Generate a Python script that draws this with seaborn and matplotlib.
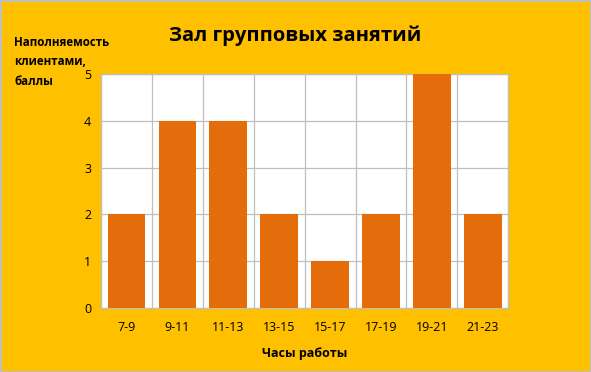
import numpy as np
import pandas as pd
import matplotlib
matplotlib.use("Agg")
import matplotlib.pyplot as plt
import seaborn as sns

# hours of work and client load score
hours = ["7-9", "9-11", "11-13", "13-15", "15-17", "17-19", "19-21", "21-23"]
scores = [2, 4, 4, 2, 1, 2, 5, 2]
ylabel_lines = ["Наполняемость", "клиентами,", "баллы"]

df = pd.DataFrame({"hours": hours, "score": scores})

sns.set_style("white")
plt.rcParams["font.family"] = ["Open Sans", "DejaVu Sans"]
plt.rcParams["text.color"] = "black"

bg = "#FFC000"
bar_color = "#E46C0A"
grid_color = "#BFBFBF"

fig = plt.figure(figsize=(5.91, 3.72), dpi=100, facecolor=bg,
                 edgecolor="#BFBFBF", linewidth=2)
ax = fig.add_axes([0.171, 0.172, 0.689, 0.629])
ax.set_facecolor("white")

sns.barplot(data=df, x="hours", y="score", color=bar_color, width=0.74,
            saturation=1, linewidth=0, ax=ax, zorder=3)

ax.set_ylim(0, 5)
ax.set_xlim(-0.5, len(hours) - 0.5)
ax.set_yticks(range(0, 6))
ax.tick_params(axis="y", length=4, color=grid_color, labelsize=9,
               labelcolor="black", pad=3)

# excel style: ticks/grid on category borders, labels at centers
ax.set_xticks(np.arange(-0.5, len(hours), 1.0))
ax.set_xticklabels([])
ax.set_xticks(range(len(hours)), minor=True)
ax.set_xticklabels(hours, minor=True)
ax.tick_params(axis="x", which="major", length=5, color=grid_color)
ax.tick_params(axis="x", which="minor", length=0, labelsize=9,
               labelcolor="black", pad=9)

ax.grid(True, which="major", color=grid_color, linewidth=0.9, zorder=0)
ax.set_axisbelow(True)
for s in ax.spines.values():
    s.set_color(grid_color)
    s.set_linewidth(0.9)

ax.set_xlabel("Часы работы", fontsize=9, fontweight="bold", labelpad=10,
              color="black")
ax.set_ylabel("")

fig.text(0.5, 0.905, "Зал групповых занятий", ha="center", va="center",
         fontsize=14.5, fontweight="bold", color="black")

# y axis title, written horizontally in three lines at top-left
for i, line in enumerate(ylabel_lines):
    fig.text(0.024, 0.887 - i * 0.053, line, ha="left", va="center",
             fontsize=8.3, fontweight="bold", color="black")

fig.savefig("out.png", dpi=100, facecolor=bg)
